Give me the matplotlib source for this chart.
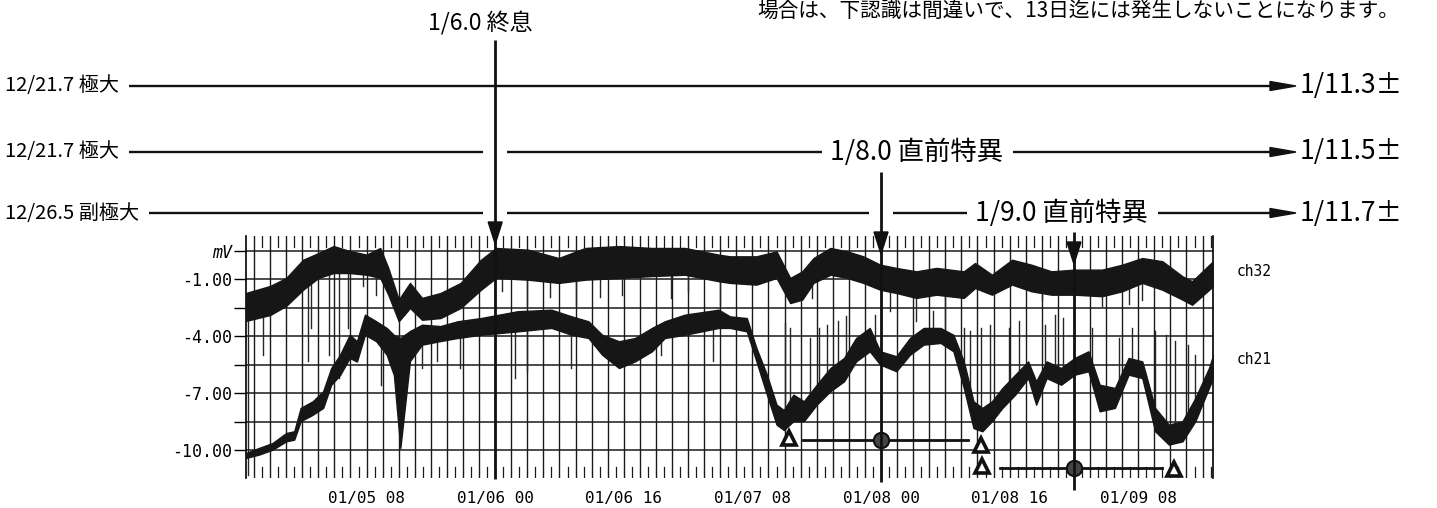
import numpy as np
import matplotlib
matplotlib.use("Agg")
import matplotlib.pyplot as plt
from matplotlib.patches import Polygon

# ---------------- data (hours since 01/05 00:00, values in mV) ----------------
ch32_t = [-7.0, -4.0, -2.0, 0.1, 2.0, 3.9, 5.9, 8.0, 9.7, 10.7, 12.0, 13.4, 14.9, 17.2,
          19.7, 22.2, 24.1, 28.1, 31.9, 35.2, 39.4, 43.5, 47.6, 51.8, 53.2, 56.5, 59.0,
          60.7, 62.2, 63.6, 65.7, 67.8, 69.8, 71.9, 73.9, 76.4, 78.9, 82.3, 83.7, 85.8,
          88.3, 90.7, 93.2, 96.1, 99.5, 102.0, 104.5, 107.0, 109.5, 110.7, 113.3]
ch32_hi = [-1.71, -1.34, -0.92, 0.04, 0.39, 0.76, 0.50, 0.31, 0.66, -0.39, -2.06, -1.18,
           -1.97, -1.71, -1.18, 0.03, 0.66, 0.57, 0.13, 0.66, 0.76, 0.66, 0.66, 0.31, 0.22,
           0.22, 0.48, -0.92, -0.57, 0.13, 0.66, 0.48, 0.22, -0.22, -0.39, -0.57, -0.39,
           -0.57, -0.13, -0.75, 0.04, -0.22, -0.57, -0.48, -0.48, -0.22, 0.13, -0.04,
           -0.83, -1.09, -0.04]
ch32_lo = [-3.18, -2.87, -2.39, -1.54, -0.92, -0.66, -0.66, -0.75, -0.92, -1.80, -3.20,
           -2.50, -3.12, -3.03, -2.50, -1.55, -0.92, -1.01, -1.18, -1.01, -0.92, -0.82,
           -0.75, -1.09, -1.18, -1.27, -0.92, -2.24, -2.06, -1.18, -0.75, -0.92, -1.18,
           -1.54, -1.71, -1.97, -1.80, -1.97, -1.45, -1.80, -1.27, -1.62, -1.80, -1.80,
           -1.88, -1.62, -1.18, -1.54, -2.06, -2.33, -1.36]

ch21_t = [-7.0, -5.4, -3.7, -2.0, -1.0, -0.2, 1.3, 2.6, 3.6, 4.7, 5.9, 6.8, 7.8, 9.2, 10.5,
          11.4, 12.2, 13.4, 14.9, 17.2, 19.3, 22.2, 26.8, 31.0, 33.5, 35.6, 37.3, 39.4,
          41.4, 43.5, 45.1, 47.6, 51.8, 53.2, 55.3, 56.5, 57.8, 59.0, 59.9, 61.1, 62.4,
          64.0, 65.7, 67.4, 68.9, 70.6, 71.9, 73.9, 75.6, 77.3, 79.4, 81.0, 82.3, 83.5,
          84.6, 85.8, 87.1, 88.7, 90.3, 91.3, 92.6, 94.4, 96.1, 97.8, 99.2, 101.1, 102.8,
          104.5, 106.1, 107.8, 109.5, 111.1, 112.8, 113.3]
ch21_hi = [-10.13, -9.87, -9.61, -9.08, -8.99, -7.76, -7.41, -6.88, -5.66, -4.96, -3.91,
           -4.25, -2.85, -3.20, -3.55, -3.92, -4.08, -3.71, -3.38, -3.45, -3.20, -3.03,
           -2.67, -2.59, -2.94, -3.20, -3.91, -4.25, -4.08, -3.55, -3.20, -2.85, -2.59,
           -2.94, -3.03, -4.61, -6.01, -7.59, -7.87, -7.06, -7.41, -6.54, -5.66, -5.13,
           -4.08, -3.55, -4.78, -5.04, -4.08, -3.55, -3.55, -3.91, -5.31, -7.41, -7.76,
           -7.41, -6.71, -6.01, -5.31, -6.36, -5.31, -5.66, -5.13, -4.78, -6.54, -6.71,
           -5.13, -5.31, -7.76, -8.64, -8.46, -7.24, -5.66, -5.00]
ch21_lo = [-10.39, -10.22, -9.96, -9.52, -9.43, -8.46, -8.12, -7.76, -6.54, -6.03, -5.13,
           -5.32, -3.91, -4.25, -4.96, -6.03, -9.87, -5.29, -4.43, -4.24, -4.08, -3.91,
           -3.73, -3.55, -3.91, -4.08, -4.96, -5.66, -5.31, -4.78, -4.08, -3.91, -3.55,
           -3.55, -3.73, -5.31, -7.06, -8.64, -8.92, -8.46, -8.46, -7.59, -6.88, -6.36,
           -5.31, -4.78, -5.48, -5.83, -4.96, -4.43, -4.34, -4.78, -6.71, -8.82, -8.99,
           -8.46, -7.76, -7.06, -6.19, -7.59, -6.19, -6.54, -6.01, -5.83, -7.94, -7.76,
           -6.01, -6.19, -8.99, -9.69, -9.52, -8.46, -6.71, -6.20]

# thin spikes: (time, tip value)
ch32_spike_t = [-4.9, 0.7, 1.1, 3.3, 4.6, 5.7, 7.6, 9.2, 24.8, 27.9, 30.8, 34.1, 37.1,
                39.8, 45.9, 48.0, 52.0, 63.4, 73.1, 76.4, 80.0, 92.0, 99.5, 102.8, 104.5]
ch32_spike_v = [-5.0, -5.31, -3.55, -4.96, -6.18, -3.55, -1.36, -1.8, -1.62, -2.33, -1.9,
                -2.33, -1.9, -1.80, -1.97, -1.6, -2.33, -1.97, -2.67, -3.2, -4.08, -2.1,
                -2.4, -2.3, -2.1]
ch21_spike_t = [-6.8, -6.8, 9.8, 14.9, 16.7, 19.6, 26.5, 28.0, 33.4, 44.6, 51.1, 60.0,
                60.1, 60.7, 63.2, 64.3, 65.3, 66.6, 67.6, 71.2, 78.5, 82.3, 83.1, 84.4,
                85.6, 87.9, 89.2, 92.4, 93.6, 94.7, 98.2, 101.6, 103.2, 106.1, 107.4,
                108.6, 110.2, 111.0]
ch21_spike_v = [-3.0, -11.3, -6.54, -5.66, -5.31, -5.66, -6.18, -5.83, -5.66, -4.96, -5.31,
                -8.97, -3.29, -3.55, -4.08, -3.55, -3.38, -3.20, -2.94, -2.85, -2.67, -3.55,
                -3.73, -3.55, -3.38, -3.55, -3.20, -3.38, -2.85, -3.03, -3.55, -4.08, -3.55,
                -3.73, -3.91, -4.25, -4.43, -4.96]

xtick_hours = [8, 24, 40, 56, 72, 88, 104]
xtick_labels = ["01/05 08", "01/06 00", "01/06 16", "01/07 08", "01/08 00", "01/08 16", "01/09 08"]
ytick_vals = [0.5, -1.0, -2.5, -4.0, -5.5, -7.0, -8.5, -10.0]
ytick_labels = ["mV", "-1.00", "", "-4.00", "", "-7.00", "", "-10.00"]

event_hours = [24, 72, 96]
event_labels = ["1/6.0 終息", "1/8.0 直前特異", "1/9.0 直前特異"]
row_left_labels = ["12/21.7 極大", "12/21.7 極大", "12/26.5 副極大"]
row_right_labels = ["1/11.3±", "1/11.5±", "1/11.7±"]
top_note = "場合は、下認識は間違いで、13日迄には発生しないことになります。"

trough_t = [60.5, 84.4, 84.6, 108.4]
trough_v = [-9.34, -9.69, -10.83, -11.0]
center_t = [72.0, 96.0]
center_v = [-9.45, -10.92]
span_start = [62.3, 86.8]
span_end = [82.8, 107.0]

# ---------------- figure ----------------
plt.rcParams["font.family"] = ["Noto Sans CJK JP", "DejaVu Sans"]
W, H = 1437, 508
fig = plt.figure(figsize=(W / 100, H / 100), dpi=100)
fig.patch.set_facecolor("white")

ax = fig.add_axes([246 / W, (H - 478) / H, (1213 - 246) / W, (478 - 236) / H])
ax.set_xlim(-7.0, 113.3)
ax.set_ylim(-11.45, 1.29)

# grid
for h in range(-6, 114, 2):
    ax.axvline(h, color="#1a1a1a", lw=1.0, zorder=1)
xt = ax.get_xaxis_transform()
for h in range(-5, 114, 2):
    ax.plot([h, h], [1.0, 0.955], color="#1a1a1a", lw=0.9, transform=xt, zorder=1)
    ax.plot([h, h], [0.0, 0.045], color="#1a1a1a", lw=0.9, transform=xt, zorder=1)
for v in ytick_vals:
    ax.axhline(v, color="#1a1a1a", lw=1.1, zorder=1)

for s in ["top", "bottom"]:
    ax.spines[s].set_visible(False)
for s in ["left", "right"]:
    ax.spines[s].set_linewidth(1.2)

ax.set_xticks(xtick_hours)
ax.set_xticklabels(xtick_labels, family="DejaVu Sans Mono", fontsize=11.5)
ax.tick_params(axis="x", length=0, pad=9)
ax.set_yticks(ytick_vals)
ax.set_yticklabels(ytick_labels, family="DejaVu Sans Mono", fontsize=12)
ax.tick_params(axis="y", length=9, width=1.0, pad=1)
ax.get_yticklabels()[0].set_style("italic")

# bands
ax.fill_between(ch32_t, ch32_lo, ch32_hi, color="#161616", lw=1.0, zorder=3)
ax.fill_between(ch21_t, ch21_lo, ch21_hi, color="#161616", lw=1.0, zorder=3)


def draw_spikes(st, sv, t, hi, lo):
    for x, tip in zip(st, sv):
        h_ = np.interp(x, t, hi)
        l_ = np.interp(x, t, lo)
        base = l_ if tip < l_ else h_
        ax.plot([x, x], [base, tip], color="#262626", lw=1.0, zorder=2)


draw_spikes(ch32_spike_t, ch32_spike_v, ch32_t, ch32_hi, ch32_lo)
draw_spikes(ch21_spike_t, ch21_spike_v, ch21_t, ch21_hi, ch21_lo)

# period markers
for a, b, v in zip(span_start, span_end, center_v):
    ax.plot([a, b], [v, v], color="#111", lw=2.0, zorder=5)
ax.plot(center_t, center_v, "o", ms=11, mfc="#444", mec="#111", mew=1.5, zorder=6, clip_on=False)
ax.plot(trough_t, trough_v, "^", ms=10, mfc="white", mec="#111", mew=2.6, zorder=6, clip_on=False)

# ---------------- overlay annotations (pixel layout) ----------------
ov = fig.add_axes([0, 0, 1, 1], zorder=5)
ov.set_xlim(0, W)
ov.set_ylim(H, 0)
ov.axis("off")
ov.patch.set_alpha(0)


def ev_x(h):
    d = ax.transData.transform((h, 0))
    return ov.transData.inverted().transform(d)[0]


ex = [ev_x(h) for h in event_hours]
LW = 1.7
FS_LEFT = 14.5
FS_EV = 19
FS_RIGHT = 19

# top note
ov.text(757, 11, top_note, fontsize=14.9, va="center", ha="left")

# rows
row_y = [86, 152, 213]
right_tip = 1296
fig.canvas.draw()
renderer = fig.canvas.get_renderer()


def right_edge(t):
    bb = t.get_window_extent(renderer)
    return ov.transData.inverted().transform((bb.x1, 0))[0]


def left_edge(t):
    bb = t.get_window_extent(renderer)
    return ov.transData.inverted().transform((bb.x0, 0))[0]


def hline(x0, x1, y):
    ov.plot([x0, x1], [y, y], color="#111", lw=LW, solid_capstyle="butt")


def right_arrow(i):
    y = row_y[i]
    ov.add_patch(Polygon([[right_tip - 26, y - 4.5], [right_tip - 26, y + 4.5], [right_tip, y]],
                         closed=True, color="#111"))
    ov.text(right_tip + 4, y, row_right_labels[i], fontsize=FS_RIGHT, va="center", ha="left")


lefts = []
for lab, y in zip(row_left_labels, row_y):
    t = ov.text(5, y, lab, fontsize=FS_LEFT, va="center", ha="left")
    lefts.append(t)
fig.canvas.draw()

gap = 12
# row 1: continuous
x0 = right_edge(lefts[0]) + 10
hline(x0, right_tip - 20, row_y[0])
right_arrow(0)

# row 2: gap at event 1, inline label of event 2
t2 = ov.text(830, row_y[1], event_labels[1], fontsize=FS_EV, va="center", ha="left")
fig.canvas.draw()
x0 = right_edge(lefts[1]) + 10
hline(x0, ex[0] - gap, row_y[1])
hline(ex[0] + gap, left_edge(t2) - 8, row_y[1])
hline(right_edge(t2) + 10, right_tip - 20, row_y[1])
right_arrow(1)

# row 3: gaps at events 1 and 2, inline label of event 3
t3 = ov.text(975, row_y[2], event_labels[2], fontsize=FS_EV, va="center", ha="left")
fig.canvas.draw()
x0 = right_edge(lefts[2]) + 10
hline(x0, ex[0] - gap, row_y[2])
hline(ex[0] + gap, ex[1] - gap, row_y[2])
hline(ex[1] + gap, left_edge(t3) - 8, row_y[2])
hline(right_edge(t3) + 10, right_tip - 20, row_y[2])
right_arrow(2)

# event 1 label
ov.text(428, 23, event_labels[0], fontsize=16.5, va="center", ha="left")

# vertical event lines with down arrows
ev_top = [40, 172, 232]
ev_tip = [244, 254, 264]
ev_bot = [479, 482, 490]
for x, y0, yt, yb in zip(ex, ev_top, ev_tip, ev_bot):
    ov.plot([x, x], [y0, yb], color="#111", lw=2.0, solid_capstyle="butt")
    ov.add_patch(Polygon([[x - 7, yt - 22], [x + 7, yt - 22], [x, yt]], closed=True, color="#111"))

# channel labels
ov.text(1237, 272, "ch32", fontsize=10.5, family="DejaVu Sans Mono", va="center", ha="left")
ov.text(1237, 360, "ch21", fontsize=10.5, family="DejaVu Sans Mono", va="center", ha="left")

fig.savefig("out.png", dpi=100, facecolor="white")
